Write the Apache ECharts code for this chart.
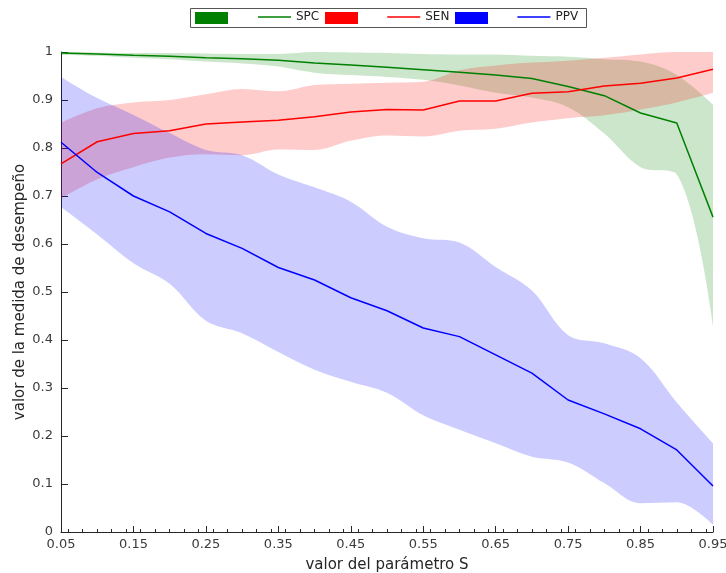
<!DOCTYPE html>
<html>
<head>
<meta charset="utf-8">
<script src="https://cdn.jsdelivr.net/npm/echarts@6/dist/echarts.min.js"></script>
<style>
  html, body { margin: 0; padding: 0; background: #fff; }
  #chart { width: 726px; height: 573px; }
</style>
</head>
<body>
<div id="chart"></div>
<script>
// parameter S
const sValues = [0.05, 0.10, 0.15, 0.20, 0.25, 0.30, 0.35, 0.40, 0.45, 0.50,
                 0.55, 0.60, 0.65, 0.70, 0.75, 0.80, 0.85, 0.90, 0.95];

// SPC
const spcMedian = [0.998, 0.996, 0.993, 0.991, 0.988, 0.986, 0.983, 0.977, 0.973, 0.968,
                   0.963, 0.958, 0.952, 0.945, 0.928, 0.909, 0.873, 0.852, 0.656];
const spcUpper  = [1.000, 0.999, 0.998, 0.998, 0.997, 0.996, 0.996, 1.000, 0.999, 0.998,
                   0.996, 0.995, 0.995, 0.992, 0.990, 0.985, 0.980, 0.952, 0.890];
const spcLower  = [0.994, 0.992, 0.988, 0.985, 0.980, 0.976, 0.970, 0.957, 0.952, 0.948,
                   0.942, 0.930, 0.915, 0.905, 0.885, 0.830, 0.760, 0.745, 0.430];

// SEN
const senMedian = [0.767, 0.813, 0.830, 0.836, 0.850, 0.854, 0.858, 0.865, 0.875, 0.880,
                   0.879, 0.898, 0.898, 0.914, 0.917, 0.929, 0.935, 0.946, 0.964];
const senUpper  = [0.853, 0.883, 0.895, 0.900, 0.912, 0.923, 0.918, 0.931, 0.934, 0.936,
                   0.938, 0.962, 0.972, 0.978, 0.982, 0.988, 0.995, 1.000, 1.000];
const senLower  = [0.695, 0.735, 0.760, 0.780, 0.787, 0.785, 0.797, 0.796, 0.815, 0.826,
                   0.824, 0.836, 0.840, 0.853, 0.862, 0.868, 0.880, 0.895, 0.915];

// PPV
const ppvMedian = [0.812, 0.749, 0.700, 0.667, 0.622, 0.591, 0.551, 0.525, 0.488, 0.461,
                   0.425, 0.407, 0.369, 0.331, 0.275, 0.246, 0.215, 0.171, 0.096];
const ppvUpper  = [0.948, 0.904, 0.869, 0.831, 0.796, 0.785, 0.745, 0.718, 0.688, 0.636,
                   0.612, 0.603, 0.552, 0.503, 0.410, 0.393, 0.362, 0.270, 0.185];
const ppvLower  = [0.677, 0.620, 0.560, 0.517, 0.440, 0.414, 0.375, 0.338, 0.313, 0.290,
                   0.243, 0.213, 0.185, 0.157, 0.145, 0.102, 0.060, 0.062, 0.015];

// tick labels (major ticks fall on every other S value, minor ticks every 0.02)
const xCategories = sValues.map(v => v.toFixed(2));
const xMinorTicks = [];
for (let k = 3; k <= 47; k++) xMinorTicks.push(k / 50);

const FONT = 'DejaVu Sans';
const AXIS_COLOR = '#262626';
const LABEL_COLOR = '#3a3a3a';

function bandSeries(key, name, lower, upper, fill) {
  return [
    {
      name: key + '_lower', type: 'line', stack: key, data: lower,
      symbol: 'none', smooth: 0.35, lineStyle: { opacity: 0 }, silent: true, z: 1
    },
    {
      name: name, type: 'line', stack: key,
      data: upper.map((u, i) => +(u - lower[i]).toFixed(4)),
      symbol: 'none', smooth: 0.35, lineStyle: { opacity: 0 },
      areaStyle: { color: fill, opacity: 1 }, silent: true, z: 1
    }
  ];
}

function lineSeries(name, values, color) {
  return {
    name, type: 'line', data: values, symbol: 'none',
    lineStyle: { color, width: 1.5 }, color, silent: true, z: 3
  };
}

const chart = echarts.init(document.getElementById('chart'));

chart.setOption({
  animation: false,
  backgroundColor: '#fff',
  textStyle: { fontFamily: FONT },
  grid: { left: 61, right: 13, top: 52, bottom: 41, containLabel: false, outerBoundsMode: 'none' },
  legend: [
    {
      left: 195, top: 12, padding: 0, orient: 'horizontal',
      itemWidth: 33, itemHeight: 12, itemGap: 97, selectedMode: false,
      formatter: () => '',
      textStyle: { fontSize: 12 },
      data: [
        { name: 'SPC banda', icon: 'rect', itemStyle: { color: '#008000', borderWidth: 0, opacity: 1 } },
        { name: 'SEN banda', icon: 'rect', itemStyle: { color: '#ff0000', borderWidth: 0, opacity: 1 } },
        { name: 'PPV banda', icon: 'rect', itemStyle: { color: '#0000ff', borderWidth: 0, opacity: 1 } }
      ]
    },
    {
      left: 258, top: 11, padding: 0, orient: 'horizontal',
      itemWidth: 33, itemHeight: 1.5, itemGap: 68, selectedMode: false,
      textStyle: { fontSize: 12, color: '#222', fontFamily: FONT },
      data: [
        { name: 'SPC', icon: 'rect', itemStyle: { color: '#008000', borderWidth: 0, opacity: 1 } },
        { name: 'SEN', icon: 'rect', itemStyle: { color: '#ff0000', borderWidth: 0, opacity: 1 } },
        { name: 'PPV', icon: 'rect', itemStyle: { color: '#0000ff', borderWidth: 0, opacity: 1 } }
      ]
    }
  ],
  graphic: [
    {
      type: 'rect', z: 0, silent: true,
      shape: { x: 190.5, y: 8.5, width: 396, height: 19 },
      style: { fill: 'none', stroke: '#555', lineWidth: 1 }
    }
  ],
  xAxis: [
    {
      type: 'category', data: xCategories, boundaryGap: false, position: 'bottom',
      name: 'valor del parámetro S', nameLocation: 'middle', nameGap: 26,
      nameTextStyle: { fontSize: 15, color: AXIS_COLOR, fontFamily: FONT },
      axisLine: { show: true, lineStyle: { color: AXIS_COLOR, width: 1 } },
      axisTick: { show: true, inside: true, length: 6, interval: 1,
                  lineStyle: { color: AXIS_COLOR } },
      axisLabel: { interval: 1, fontSize: 13, color: LABEL_COLOR, margin: 6, fontFamily: FONT },
      splitLine: { show: false }
    },
    {
      type: 'value', min: 0.05, max: 0.95, position: 'bottom', gridIndex: 0,
      axisLine: { show: false },
      axisTick: { show: true, inside: true, length: 3, customValues: xMinorTicks,
                  lineStyle: { color: AXIS_COLOR } },
      axisLabel: { show: false },
      splitLine: { show: false }
    }
  ],
  yAxis: {
    type: 'value', min: 0, max: 1, interval: 0.1,
    name: 'valor de la medida de desempeño', nameLocation: 'middle', nameGap: 33,
    nameMoveOverlap: false,
    nameTextStyle: { fontSize: 15, color: AXIS_COLOR, fontFamily: FONT },
    axisLine: { show: true, lineStyle: { color: AXIS_COLOR, width: 1 } },
    axisTick: { show: true, inside: true, length: 7, lineStyle: { color: AXIS_COLOR } },
    axisLabel: { fontSize: 13, color: LABEL_COLOR, margin: 8, fontFamily: FONT },
    splitLine: { show: false }
  },
  series: [
    ...bandSeries('spc', 'SPC banda', spcLower, spcUpper, 'rgba(0,128,0,0.2)'),
    ...bandSeries('sen', 'SEN banda', senLower, senUpper, 'rgba(255,0,0,0.2)'),
    ...bandSeries('ppv', 'PPV banda', ppvLower, ppvUpper, 'rgba(0,0,255,0.2)'),
    lineSeries('SPC', spcMedian, '#008000'),
    lineSeries('SEN', senMedian, '#ff0000'),
    lineSeries('PPV', ppvMedian, '#0000ff')
  ]
});
</script>
</body>
</html>
